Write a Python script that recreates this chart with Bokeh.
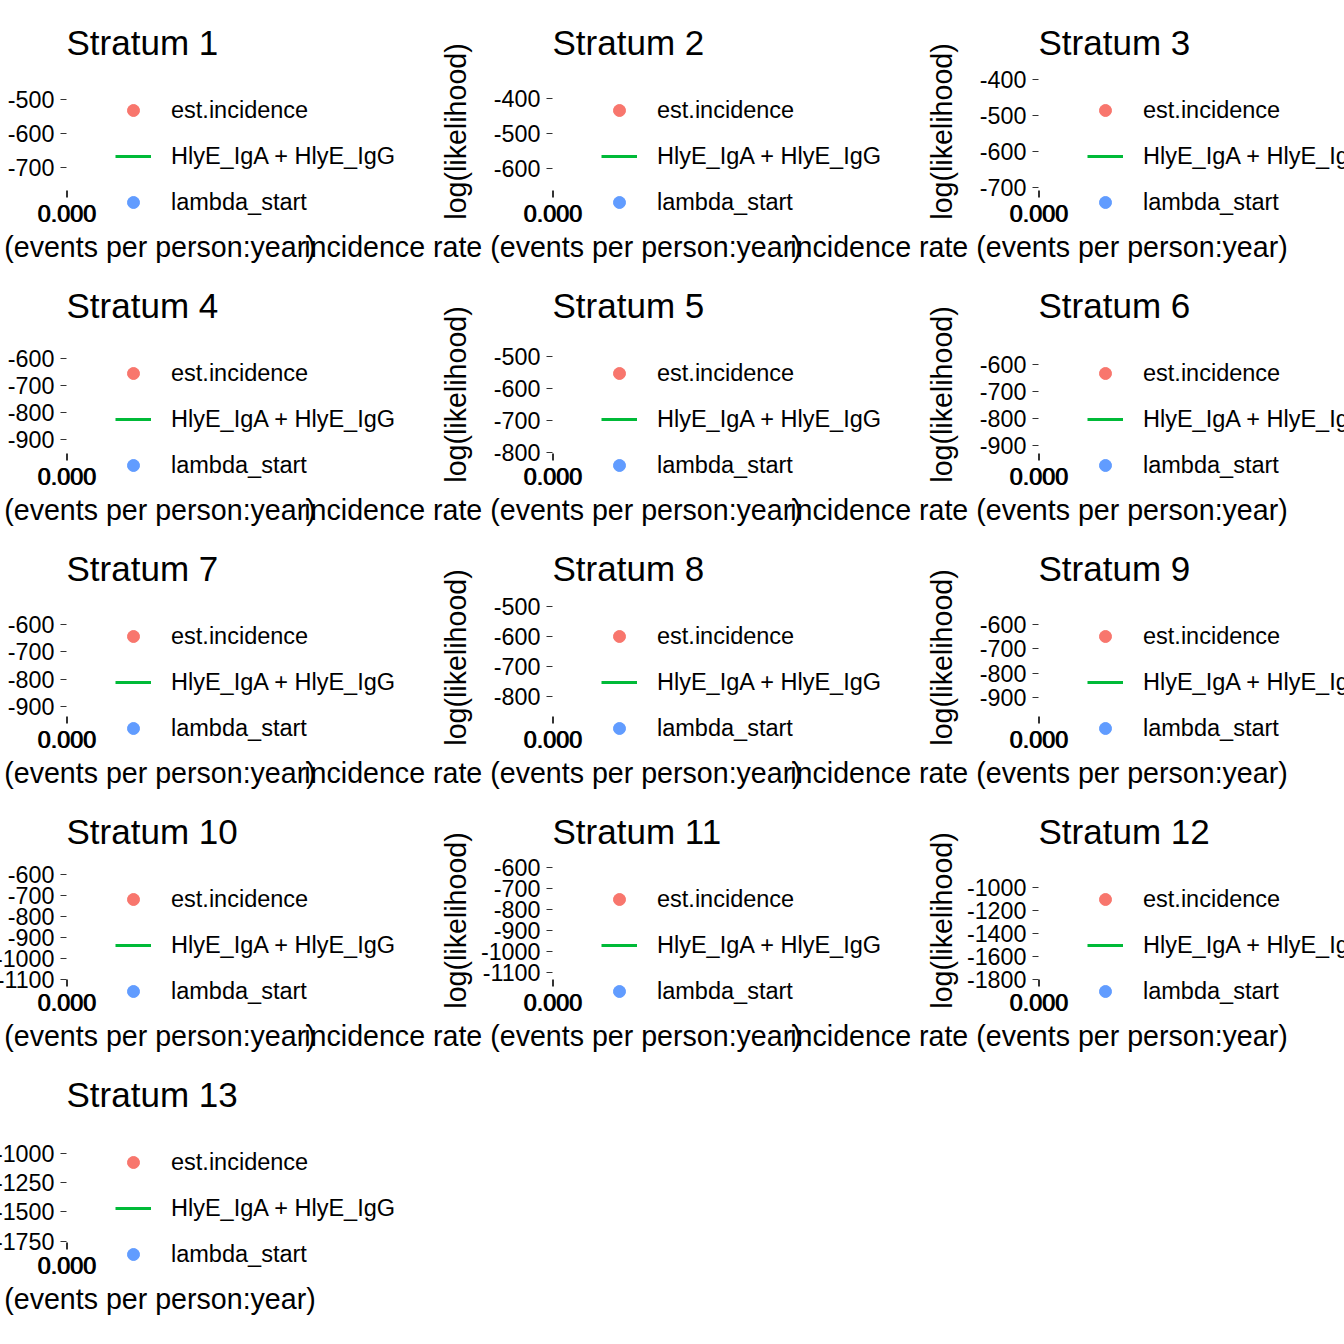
from bokeh.plotting import figure
from bokeh.layouts import row, column
from bokeh.models import Range1d, FixedTicker, PrintfTickFormatter, Legend, LegendItem, Spacer
from bokeh.embed import file_html
from bokeh.resources import INLINE

strata = ["Stratum 1", "Stratum 2", "Stratum 3", "Stratum 4", "Stratum 5",
          "Stratum 6", "Stratum 7", "Stratum 8", "Stratum 9", "Stratum 10",
          "Stratum 11", "Stratum 12", "Stratum 13"]

# y tick values of each stratum (log likelihood)
y_ticks = [
    [-700, -600, -500],
    [-600, -500, -400],
    [-700, -600, -500, -400],
    [-900, -800, -700, -600],
    [-800, -700, -600, -500],
    [-900, -800, -700, -600],
    [-900, -800, -700, -600],
    [-800, -700, -600, -500],
    [-900, -800, -700, -600],
    [-1100, -1000, -900, -800, -700, -600],
    [-1100, -1000, -900, -800, -700, -600],
    [-1800, -1600, -1400, -1200, -1000],
    [-1750, -1500, -1250, -1000],
]
# visible y range of each stratum (bottom, top)
y_low = [-768, -663, -708, -952, -802, -930, -937, -867, -978, -1102, -1133, -1802, -1762]
y_high = [-421, -326, -381, -515, -435, -493, -505, -473, -493, -539, -571, -776, -750]

# incidence rate axis collapsed to (almost) nothing
x_low, x_high = 0.0, 0.0001
x_ticks = [0.0, 0.0001]

legend_labels = ["est.incidence", "HlyE_IgA + HlyE_IgG", "lambda_start"]
legend_colors = ["#F8766D", "#00BA38", "#619CFF"]

x_title = "incidence rate (events per person:year)"
y_title = "log(likelihood)"

FONT = "Liberation Sans"


def make_panel(i, col):
    p = figure(frame_width=1, frame_height=118,
               x_range=Range1d(x_low, x_high), y_range=Range1d(y_low[i], y_high[i]),
               min_border_left=250, min_border_right=340,
               min_border_top=72, min_border_bottom=81,
               toolbar_location=None, output_backend="svg", title=strata[i],
               border_fill_color=None, background_fill_color=None,
               outline_line_color=None)
    p.grid.visible = False

    p.title.text_font = FONT
    p.title.text_font_size = "35px"
    p.title.text_font_style = "normal"
    p.title.text_color = "black"
    p.title.align = "left"
    p.title.standoff = 22

    for ax in (p.xaxis, p.yaxis):
        ax.axis_line_color = None
        ax.major_tick_in = 0
        ax.minor_tick_line_color = None
        ax.major_tick_line_color = "#333333"
        ax.major_label_text_font = FONT
        ax.major_label_text_font_size = "23.3px"
        ax.major_label_text_color = "black"
        ax.axis_label_text_font = FONT
        ax.axis_label_text_font_size = "28.6px"
        ax.axis_label_text_font_style = "normal"
        ax.axis_label_text_color = "black"

    p.xaxis.ticker = FixedTicker(ticks=x_ticks)
    p.xaxis.formatter = PrintfTickFormatter(format="%.3f")
    p.xaxis.major_tick_out = 7
    p.xaxis.major_label_standoff = 7
    p.xaxis.axis_label = x_title
    p.xaxis.axis_label_standoff = 6

    p.yaxis.ticker = FixedTicker(ticks=y_ticks[i])
    p.yaxis.formatter = PrintfTickFormatter(format="%d")
    p.yaxis.major_tick_out = 6
    p.yaxis.major_label_standoff = 6
    p.yaxis.axis_label = y_title
    wide = max(len(str(t)) for t in y_ticks[i]) > 4
    p.yaxis.axis_label_standoff = 6 if wide else 19

    # the curve and points fall outside the collapsed incidence axis
    r0 = p.scatter([x_low], [y_ticks[i][0]], size=12, color=legend_colors[0], visible=False)
    r1 = p.line([x_low, x_high], [y_ticks[i][0], y_ticks[i][-1]], line_width=3,
                color=legend_colors[1], visible=False)
    r2 = p.scatter([x_low], [y_ticks[i][-1]], size=12, color=legend_colors[2], visible=False)
    items = [LegendItem(label=lab, renderers=[r])
             for lab, r in zip(legend_labels, [r0, r1, r2])]
    leg = Legend(items=items, location=(48, -27),
                 glyph_width=36, glyph_height=30, label_height=30,
                 label_standoff=20, spacing=16, padding=0, margin=0,
                 border_line_color=None, background_fill_alpha=0,
                 inactive_fill_alpha=0,
                 label_text_font=FONT, label_text_font_size="23.5px",
                 label_text_color="black")
    p.add_layout(leg, "right")

    # the legend panel is wider than the column pitch, so panels overlap
    p.margin = (0, 0, -8, -184 if col == 0 else -509)
    return p


panels = [make_panel(i, i % 3) for i in range(len(strata))]
rows = [row(*panels[k:k + 3]) for k in range(0, 12, 3)]
rows.append(row(panels[12], Spacer(width=928, height=263)))
layout = column(*rows)

open("out.html", "w").write(file_html(layout, INLINE))
